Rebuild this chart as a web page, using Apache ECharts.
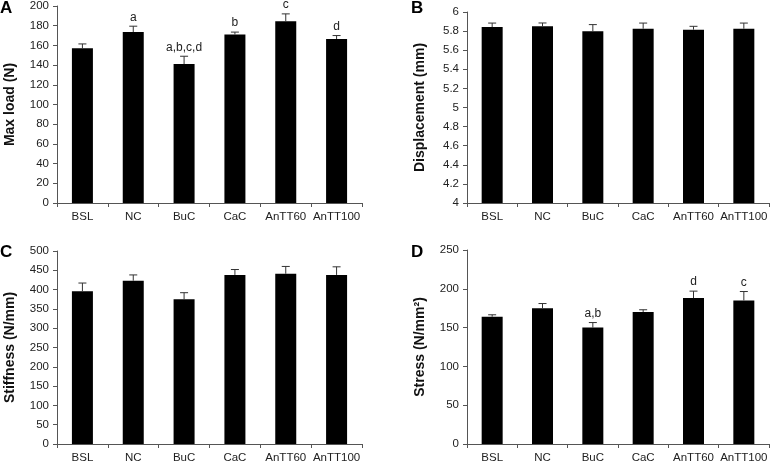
<!DOCTYPE html>
<html>
<head>
<meta charset="utf-8">
<script src="https://cdn.jsdelivr.net/npm/echarts@6/dist/echarts.min.js"></script>
<style>
  html, body { margin: 0; padding: 0; background: #fff; }
</style>
</head>
<body>
<div id="main" style="width: 773px;height:464px;"></div>
<script>
    // groups on the x axis
    var groups = ['BSL', 'NC', 'BuC', 'CaC', 'AnTT60', 'AnTT100'];

    // A: max load (N)
    var loadMean = [157, 173.5, 141, 171, 184.5, 166.5];
    var loadErr  = [4.5, 6, 8, 2.5, 7.5, 3.5];
    var loadSig  = ['', 'a', 'a,b,c,d', 'b', 'c', 'd'];

    // B: displacement (mm)
    var dispMean = [5.842, 5.850, 5.798, 5.825, 5.815, 5.825];
    var dispErr  = [0.042, 0.035, 0.07, 0.059, 0.035, 0.059];

    // C: stiffness (N/mm)
    var stifMean = [396, 423, 375, 438, 441, 438];
    var stifErr  = [21, 15, 17, 14, 19, 21];

    // D: stress (N/mm2)
    var strsMean = [164, 175, 150, 170, 188, 185];
    var strsErr  = [2.5, 6, 6.5, 3, 9, 11.5];
    var strsSig  = ['', '', 'a,b', '', 'd', 'c'];

    var FONT = '"Liberation Sans", Arial, sans-serif';

    function errData(mean, err) {
        return mean.map(function (m, i) {
            return [i, m, err[i]];
        });
    }

    // 误差线 + 显著性字母
    function makeRender(sig) {
        return function (params, api) {
            var i = api.value(0);
            var m = api.value(1);
            var e = api.value(2);
            var txt = sig ? sig[params.dataIndex] : '';
            var p0 = api.coord([i, m]);
            var p1 = api.coord([i, m + e]);
            var half = 4;
            var style = { stroke: '#333', lineWidth: 1 };
            var children = [
                { type: 'line', shape: { x1: p0[0], y1: p0[1], x2: p1[0], y2: p1[1] }, style: style },
                { type: 'line', shape: { x1: p1[0] - half, y1: p1[1], x2: p1[0] + half, y2: p1[1] }, style: style }
            ];
            if (txt) {
                children.push({
                    type: 'text',
                    style: {
                        x: p1[0], y: p1[1] - 3, text: txt,
                        align: 'center', verticalAlign: 'bottom',
                        fill: '#222', fontSize: 12, fontFamily: FONT
                    }
                });
            }
            return { type: 'group', children: children };
        };
    }

    var grids = [
        { left: 57, right: 411, top: 6, bottom: 261 },
        { left: 467, right: 4, top: 12, bottom: 261 },
        { left: 57, right: 411, top: 251, bottom: 19 },
        { left: 467, right: 4, top: 250, bottom: 18 }
    ];

    var yDefs = [
        { name: 'Max load (N)', min: 0, max: 200, interval: 20 },
        { name: 'Displacement (mm)', min: 4, max: 6, interval: 0.2 },
        { name: 'Stiffness (N/mm)', min: 0, max: 500, interval: 50 },
        { name: 'Stress (N/mm²)', min: 0, max: 250, interval: 50 }
    ];

    var panels = [
        [loadMean, loadErr, loadSig],
        [dispMean, dispErr, null],
        [stifMean, stifErr, null],
        [strsMean, strsErr, strsSig]
    ];

    var xAxes = [], yAxes = [], series = [];
    for (var k = 0; k < 4; k++) {
        xAxes.push({
            type: 'category', gridIndex: k, data: groups,
            axisLine: { lineStyle: { color: '#555', width: 1 } },
            axisTick: { show: true, length: 4, interval: 0, lineStyle: { color: '#555' } },
            axisLabel: { color: '#222', fontSize: 11.5, fontFamily: FONT, margin: 8, interval: 0 },
            splitLine: { show: false }
        });
        yAxes.push({
            type: 'value', gridIndex: k,
            min: yDefs[k].min, max: yDefs[k].max, interval: yDefs[k].interval,
            name: yDefs[k].name, nameLocation: 'middle', nameGap: 40,
            nameTextStyle: { color: '#111', fontSize: 14, fontWeight: 'bold', fontFamily: FONT },
            axisLine: { show: true, lineStyle: { color: '#555', width: 1 } },
            axisTick: { show: true, length: 4, lineStyle: { color: '#555' } },
            axisLabel: { color: '#222', fontSize: 11.5, fontFamily: FONT, margin: 8,
                formatter: function (v) { return +v.toFixed(1); } },
            splitLine: { show: false }
        });
        series.push({
            type: 'bar', xAxisIndex: k, yAxisIndex: k,
            data: panels[k][0], barWidth: 21,
            itemStyle: { color: '#000' },
            silent: true
        });
        series.push({
            type: 'custom', xAxisIndex: k, yAxisIndex: k,
            data: errData(panels[k][0], panels[k][1]),
            renderItem: makeRender(panels[k][2]), silent: true, z: 3
        });
    }

    var myChart = echarts.init(document.getElementById('main'));
    myChart.setOption({
        animation: false,
        backgroundColor: '#fff',
        title: [
            { text: 'A', left: 0, top: 0 },
            { text: 'B', left: 411, top: 0 },
            { text: 'C', left: 0, top: 244 },
            { text: 'D', left: 411, top: 244 }
        ].map(function (t) {
            t.padding = 0;
            t.textStyle = { fontSize: 17, fontWeight: 'bold', color: '#000', fontFamily: FONT };
            return t;
        }),
        grid: grids,
        xAxis: xAxes,
        yAxis: yAxes,
        series: series
    });
</script>
</body>
</html>
